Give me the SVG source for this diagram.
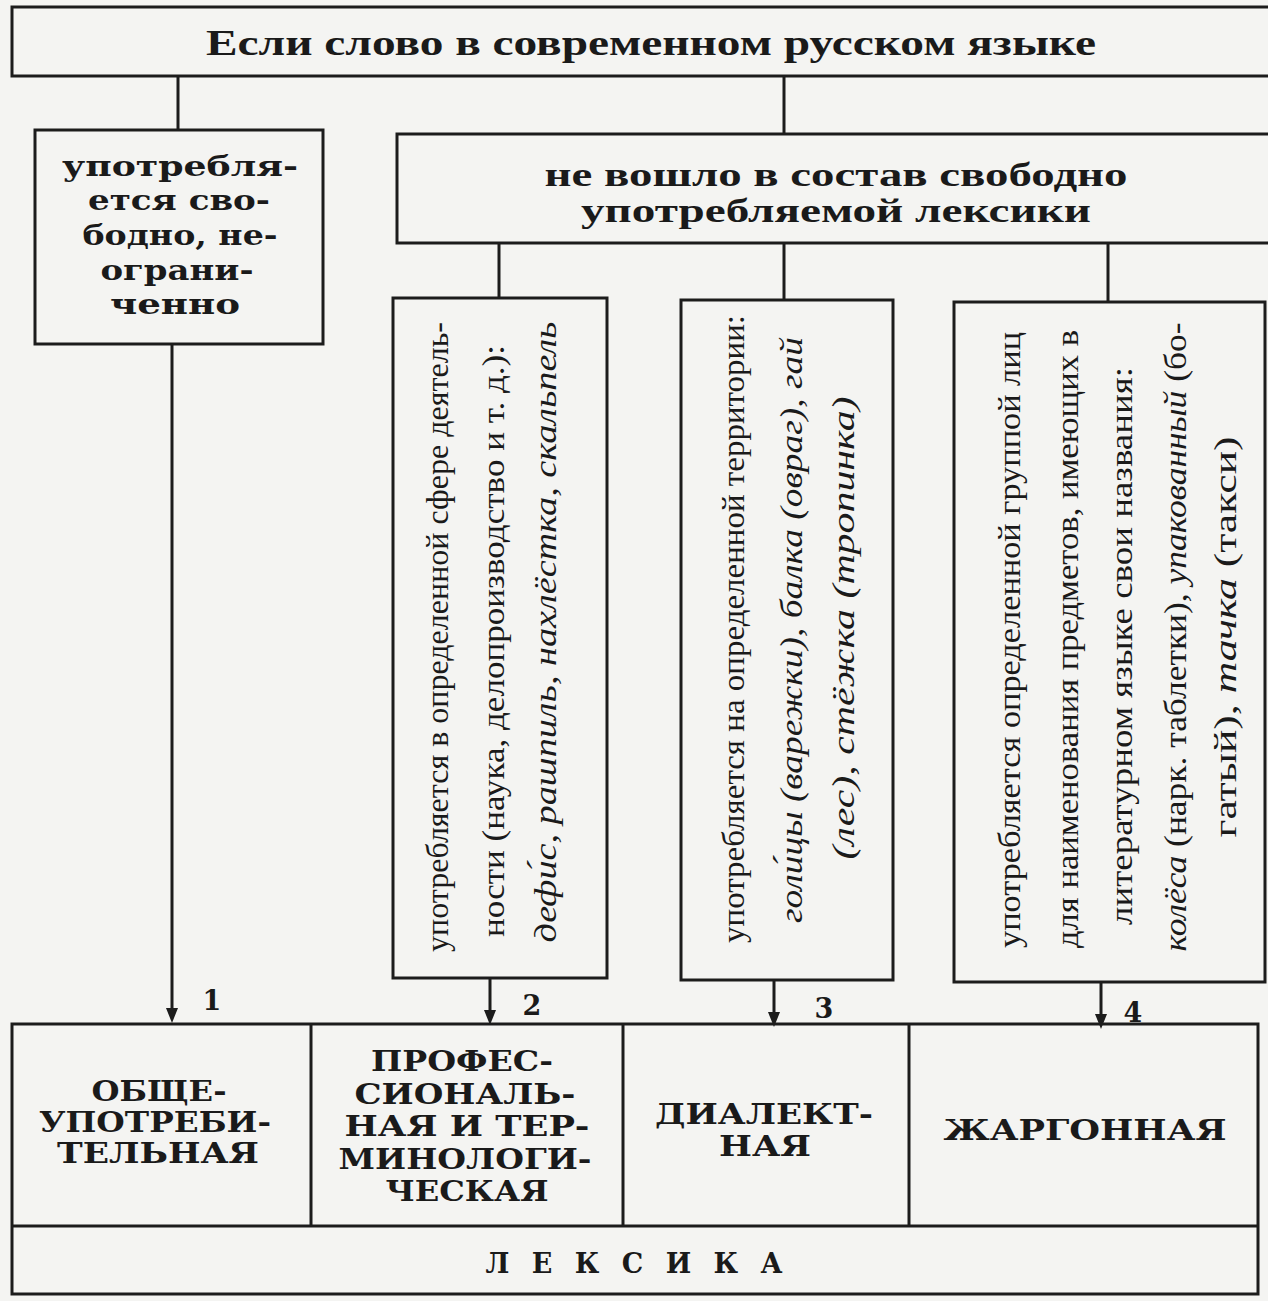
<svg xmlns="http://www.w3.org/2000/svg" width="1268" height="1301" viewBox="0 0 1268 1301">
<style>
.bx{fill:none;stroke:#1c1c1c;stroke-width:3}
.ln{fill:none;stroke:#1c1c1c;stroke-width:3}
.t1{font-family:"Liberation Serif",serif;font-weight:bold;fill:#1a1a1a}
.t2{font-family:"DejaVu Serif","Liberation Serif",serif;font-weight:bold;fill:#1a1a1a}
.tv{font-family:"Liberation Serif",serif;font-size:32px;fill:#1a1a1a}
.it{font-style:italic}
.num{font-family:"DejaVu Serif","Liberation Serif",serif;font-weight:bold;font-size:27px;fill:#1a1a1a}
.ah{fill:#1c1c1c}
</style>
<rect x="0" y="0" width="1268" height="1301" fill="#f4f4f2"/>

<g id="connectors">
<line class="ln" x1="178" y1="76" x2="178" y2="130"/>
<line class="ln" x1="784" y1="76" x2="784" y2="134"/>
<line class="ln" x1="499" y1="243" x2="499" y2="298"/>
<line class="ln" x1="784" y1="243" x2="784" y2="300"/>
<line class="ln" x1="1108" y1="243" x2="1108" y2="302"/>
<line class="ln" x1="172" y1="344" x2="172" y2="1010"/>
<path class="ah" d="M166,1008 L178,1008 L172,1023 Z"/>
<line class="ln" x1="490" y1="978" x2="490" y2="1012"/>
<path class="ah" d="M484,1010 L496,1010 L490,1025 Z"/>
<line class="ln" x1="774" y1="980" x2="774" y2="1014"/>
<path class="ah" d="M768,1012 L780,1012 L774,1027 Z"/>
<line class="ln" x1="1101" y1="982" x2="1101" y2="1016"/>
<path class="ah" d="M1095,1014 L1107,1014 L1101,1029 Z"/>
<text class="num" x="212" y="1010" text-anchor="middle">1</text>
<text class="num" x="532" y="1015" text-anchor="middle">2</text>
<text class="num" x="824" y="1018" text-anchor="middle">3</text>
<text class="num" x="1133" y="1022" text-anchor="middle">4</text>
</g>

<g id="top">
<rect class="bx" x="12" y="7" width="1270" height="69"/>
<text class="t1" x="651" y="55" font-size="35" text-anchor="middle" textLength="890" lengthAdjust="spacingAndGlyphs">Если слово в современном русском языке</text>
</g>

<g id="free">
<rect class="bx" x="35" y="130" width="288" height="214"/>
<g class="t2" font-size="28" text-anchor="middle">
<text x="180" y="176" textLength="236" lengthAdjust="spacingAndGlyphs">употребля-</text>
<text x="179" y="210" textLength="182" lengthAdjust="spacingAndGlyphs">ется сво-</text>
<text x="180" y="245" textLength="195" lengthAdjust="spacingAndGlyphs">бодно, не-</text>
<text x="177" y="280" textLength="153" lengthAdjust="spacingAndGlyphs">ограни-</text>
<text x="175" y="314" textLength="130" lengthAdjust="spacingAndGlyphs">ченно</text>
</g>
</g>

<g id="notfree">
<rect class="bx" x="397" y="134" width="890" height="109"/>
<g class="t1" font-size="33" text-anchor="middle">
<text x="836" y="186" textLength="583" lengthAdjust="spacingAndGlyphs">не вошло в состав свободно</text>
<text x="836" y="222" textLength="510" lengthAdjust="spacingAndGlyphs">употребляемой лексики</text>
</g>
</g>

<g id="prof-box">
<rect class="bx" x="393" y="298" width="214" height="680"/>
<g class="tv" text-anchor="middle">
<text transform="translate(448,637) rotate(-90)" textLength="630" lengthAdjust="spacingAndGlyphs">употребляется в определенной сфере деятель-</text>
<text transform="translate(504,641) rotate(-90)" textLength="592" lengthAdjust="spacingAndGlyphs">ности (наука, делопроизводство и т. д.):</text>
<text class="it" transform="translate(556,632) rotate(-90)" textLength="621" lengthAdjust="spacingAndGlyphs">дефи́с, рашпиль, нахлёстка, скальпель</text>
</g>
</g>

<g id="dial-box">
<rect class="bx" x="681" y="300" width="212" height="680"/>
<g class="tv" text-anchor="middle">
<text transform="translate(744,629) rotate(-90)" textLength="628" lengthAdjust="spacingAndGlyphs">употребляется на определенной территории:</text>
<text class="it" transform="translate(802,630) rotate(-90)" textLength="586" lengthAdjust="spacingAndGlyphs">голи́цы (варежки), балка (овраг), гай</text>
<text class="it" transform="translate(854,628) rotate(-90)" textLength="463" lengthAdjust="spacingAndGlyphs">(лес), стёжка (тропинка)</text>
</g>
</g>

<g id="jarg-box">
<rect class="bx" x="954" y="302" width="311" height="680"/>
<g class="tv" text-anchor="middle">
<text transform="translate(1020,640) rotate(-90)" textLength="616" lengthAdjust="spacingAndGlyphs">употребляется определенной группой лиц</text>
<text transform="translate(1078,639) rotate(-90)" textLength="618" lengthAdjust="spacingAndGlyphs">для наименования предметов, имеющих в</text>
<text transform="translate(1132,646) rotate(-90)" textLength="558" lengthAdjust="spacingAndGlyphs">литературном языке свои названия:</text>
<text transform="translate(1186,637) rotate(-90)" textLength="629" lengthAdjust="spacingAndGlyphs"><tspan class="it">колёса</tspan> (нарк. таблетки), <tspan class="it">упакованный</tspan> (бо-</text>
<text transform="translate(1236,637) rotate(-90)" textLength="401" lengthAdjust="spacingAndGlyphs">гатый), <tspan class="it">тачка</tspan> (такси)</text>
</g>
</g>

<g id="bottom">
<rect class="bx" x="12" y="1024" width="1246" height="270"/>
<line class="ln" x1="12" y1="1226" x2="1258" y2="1226"/>
</g>

<g id="cat1">
<line class="ln" x1="311" y1="1024" x2="311" y2="1226"/>
<g class="t2" font-size="27" text-anchor="middle">
<text x="159" y="1101" textLength="135" lengthAdjust="spacingAndGlyphs">ОБЩЕ-</text>
<text x="155" y="1132" textLength="232" lengthAdjust="spacingAndGlyphs">УПОТРЕБИ-</text>
<text x="158" y="1163" textLength="202" lengthAdjust="spacingAndGlyphs">ТЕЛЬНАЯ</text>
</g>
</g>
<g id="cat2">
<line class="ln" x1="623" y1="1024" x2="623" y2="1226"/>
<g class="t2" font-size="27" text-anchor="middle">
<text x="462" y="1071" textLength="182" lengthAdjust="spacingAndGlyphs">ПРОФЕС-</text>
<text x="465" y="1104" textLength="221" lengthAdjust="spacingAndGlyphs">СИОНАЛЬ-</text>
<text x="467" y="1136" textLength="245" lengthAdjust="spacingAndGlyphs">НАЯ И ТЕР-</text>
<text x="465" y="1169" textLength="253" lengthAdjust="spacingAndGlyphs">МИНОЛОГИ-</text>
<text x="467" y="1201" textLength="163" lengthAdjust="spacingAndGlyphs">ЧЕСКАЯ</text>
</g>
</g>
<g id="cat3">
<line class="ln" x1="909" y1="1024" x2="909" y2="1226"/>
<g class="t2" font-size="27" text-anchor="middle">
<text x="764" y="1124" textLength="218" lengthAdjust="spacingAndGlyphs">ДИАЛЕКТ-</text>
<text x="765" y="1156" textLength="92" lengthAdjust="spacingAndGlyphs">НАЯ</text>
</g>
</g>
<g id="cat4">
<text class="t2" x="1085" y="1140" font-size="27" text-anchor="middle" textLength="283" lengthAdjust="spacingAndGlyphs">ЖАРГОННАЯ</text>
</g>
<g id="lexika">
<text class="t2" x="634" y="1273" font-size="27" text-anchor="middle" textLength="297" lengthAdjust="spacing">ЛЕКСИКА</text>
</g>
</svg>
